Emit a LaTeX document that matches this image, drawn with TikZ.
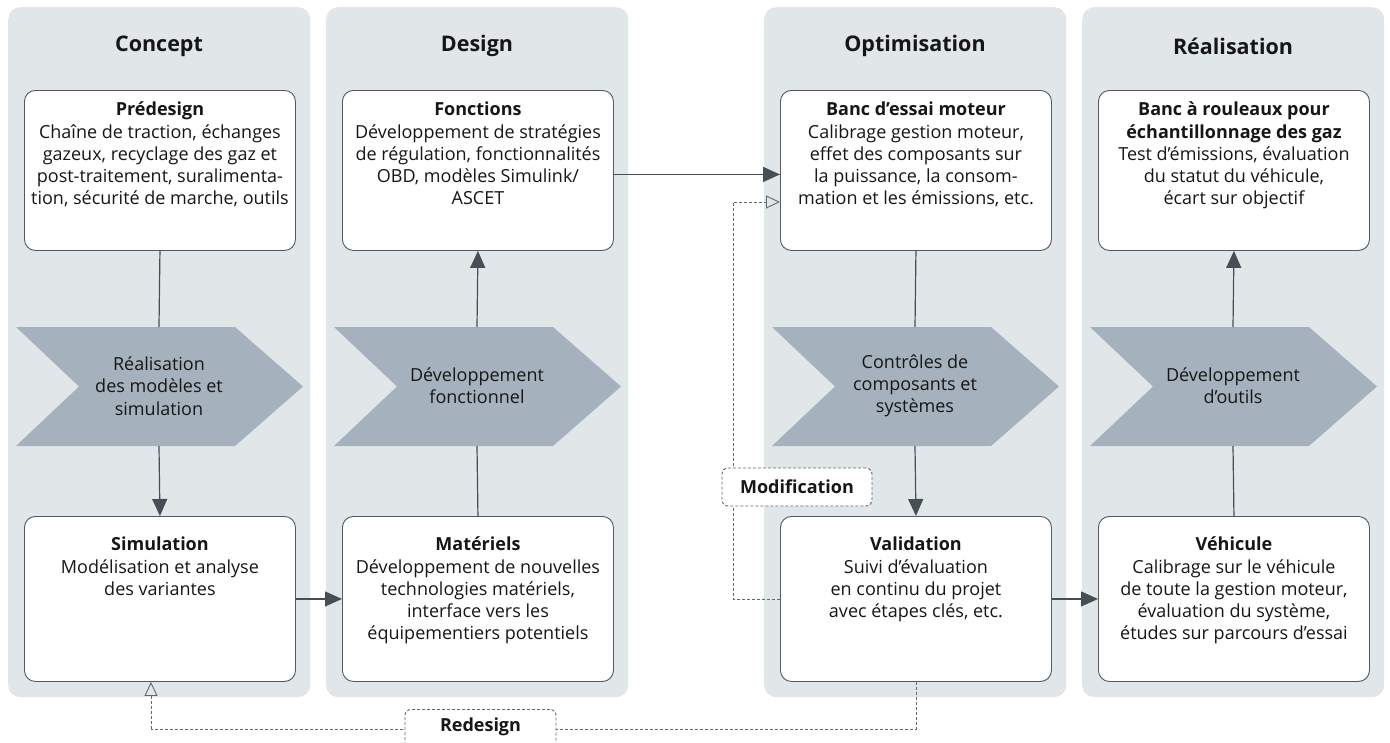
\documentclass[tikz,border=0pt]{standalone}
\usepackage{fontspec}
\setmainfont{Open Sans}
\usetikzlibrary{arrows.meta}
\definecolor{panelgrey}{HTML}{E1E6E9}
\definecolor{chevgrey}{HTML}{A5B2BD}
\definecolor{conncol}{HTML}{454F55}
\definecolor{boxline}{HTML}{505A60}
\definecolor{dashcol}{HTML}{606A70}
\definecolor{txtcol}{HTML}{161616}
\tikzset{
  panelbox/.style={fill=panelgrey, rounded corners=12pt, draw=none, minimum width=302pt, minimum height=690pt, anchor=north west, inner sep=0pt},
  headtxt/.style={font=\fontsize{21.5}{26}\selectfont\bfseries, text=txtcol, inner sep=0pt},
  stepbox/.style={fill=white, draw=boxline, line width=0.9pt, rounded corners=11pt, minimum width=271pt, anchor=north west, inner sep=0pt},
  boxtxt/.style={font=\fontsize{18}{22.2}\selectfont, text=txtcol, align=center, inner sep=0pt, anchor=north},
  chevtxt/.style={font=\fontsize{18}{22.2}\selectfont, text=txtcol, align=center, inner sep=0pt},
  conn/.style={draw=conncol, line width=1.2pt},
  arr/.style={conn, -{Triangle[length=17pt,width=15pt]}},
  dashconn/.style={draw=dashcol, line width=0.9pt, dash pattern=on 3pt off 2pt, -{Triangle[open,length=14pt,width=13pt]}},
  dashline/.style={draw=dashcol, line width=0.9pt, dash pattern=on 3pt off 2pt},
  labbox/.style={fill=white, draw=dashcol, line width=0.9pt, dash pattern=on 3pt off 2pt, rounded corners=6pt, font=\fontsize{18}{22}\selectfont\bfseries, text=txtcol, inner sep=0pt}
}
\newcommand{\chevshape}[2]{%
  \fill[chevgrey] (#1+8,327) -- (#1+227,327) -- (#1+295,386.5) -- (#1+227,446) -- (#1+8,446) -- (#1+71,386.5) -- cycle;
  \coordinate (#2top) at (#1+151,327);
  \coordinate (#2bot) at (#1+151,446);
}
\begin{document}
\begin{tikzpicture}[x=1pt,y=-1pt]
\useasboundingbox (0,0) rectangle (1390,742);
\clip (0,0) rectangle (1390,742);

% panels
\node[panelbox] (pconcept) at (8,7) {};
\node[panelbox] (pdesign) at (326,7) {};
\node[panelbox] (poptim) at (764,7) {};
\node[panelbox] (preal) at (1082,7) {};

% headers
\node[headtxt] (hconcept) at (159,46) {Concept};
\node[headtxt] (hdesign) at (477,46) {Design};
\node[headtxt] (hoptim) at (915,46) {Optimisation};
\node[headtxt] (hreal) at (1233,46) {Réalisation};

% chevrons
\chevshape{8}{ca}
\chevshape{326}{cb}
\chevshape{764}{cc}
\chevshape{1082}{cd}
\node[chevtxt] (tca) at (159,386) {Réalisation\\des modèles et\\simulation};
\node[chevtxt] (tcb) at (477,386) {Développement\\fonctionnel};
\node[chevtxt] (tcc) at (915,386) {Contrôles de\\composants et\\systèmes};
\node[chevtxt] (tcd) at (1233,386) {Développement\\d’outils};

% top boxes
\node[stepbox, minimum height=160pt] (predesign) at (24,90) {};
\node[stepbox, minimum height=160pt] (fonctions) at (342,90) {};
\node[stepbox, minimum height=160pt] (banc) at (780,90) {};
\node[stepbox, minimum height=160pt] (rouleaux) at (1098,90) {};
% bottom boxes
\node[stepbox, minimum height=165pt] (simulation) at (24,516) {};
\node[stepbox, minimum height=165pt] (materiels) at (342,516) {};
\node[stepbox, minimum height=165pt] (validation) at (780,516) {};
\node[stepbox, minimum height=165pt] (vehicule) at (1098,516) {};

% box texts
\node[boxtxt] (tpredesign) at ([yshift=-12pt]predesign.north) {\textbf{Prédesign}\\Chaîne de traction, échanges\\gazeux, recyclage des gaz et\\post-traitement, suralimenta-\\tion, sécurité de marche, outils};
\node[boxtxt] (tfonctions) at ([yshift=-12pt]fonctions.north) {\textbf{Fonctions}\\Développement de stratégies\\de régulation, fonctionnalités\\OBD, modèles Simulink/\\ASCET};
\node[boxtxt] (tbanc) at ([yshift=-12pt]banc.north) {\textbf{Banc d’essai moteur}\\Calibrage gestion moteur,\\effet des composants sur\\la puissance, la consom-\\mation et les émissions, etc.};
\node[boxtxt] (trouleaux) at ([yshift=-12pt]rouleaux.north) {\textbf{Banc à rouleaux pour}\\\textbf{échantillonnage des gaz}\\Test d’émissions, évaluation\\du statut du véhicule,\\écart sur objectif};
\node[boxtxt] (tsimulation) at ([yshift=-21pt]simulation.north) {\textbf{Simulation}\\Modélisation et analyse\\des variantes};
\node[boxtxt] (tmateriels) at ([yshift=-21pt]materiels.north) {\textbf{Matériels}\\Développement de nouvelles\\technologies matériels,\\interface vers les\\équipementiers potentiels};
\node[boxtxt] (tvalidation) at ([yshift=-21pt]validation.north) {\textbf{Validation}\\Suivi d’évaluation\\en continu du projet\\avec étapes clés, etc.};
\node[boxtxt] (tvehicule) at ([yshift=-21pt]vehicule.north) {\textbf{Véhicule}\\Calibrage sur le véhicule\\de toute la gestion moteur,\\évaluation du système,\\études sur parcours d’essai};

% vertical connectors
\draw[conn] (predesign.south) -- (catop);
\draw[arr] (cabot) -- (simulation.north);
\draw[conn] (materiels.north) -- (cbbot);
\draw[arr] (cbtop) -- (fonctions.south);
\draw[conn] (banc.south) -- (cctop);
\draw[arr] (ccbot) -- (validation.north);
\draw[conn] (vehicule.north) -- (cdbot);
\draw[arr] (cdtop) -- (rouleaux.south);

% horizontal connectors
\draw[arr] (simulation.east) -- (materiels.west);
\draw[arr] ([yshift=-4pt]fonctions.east) -- ([yshift=-4pt]banc.west);
\draw[arr] (validation.east) -- (vehicule.west);

% modification loop
\coordinate (modturn) at (733,202);
\draw[dashconn] (validation.west) -| (modturn) -- (modturn -| banc.west);
\node[labbox, minimum width=150pt, minimum height=38pt] (modif) at (797,487) {Modification};

% redesign loop
\coordinate (redL) at (151,729);
\draw[dashline] (validation.south) |- (redL);
\draw[dashconn] (redL) -- (redL |- simulation.south);
\node[labbox, minimum width=151pt, minimum height=44pt, anchor=north] (redesign) at (480.5,709) {};
\node[font=\fontsize{18}{22}\selectfont\bfseries, text=txtcol, inner sep=0pt] (tredesign) at (480.5,727) {Redesign};
\end{tikzpicture}
\end{document}
